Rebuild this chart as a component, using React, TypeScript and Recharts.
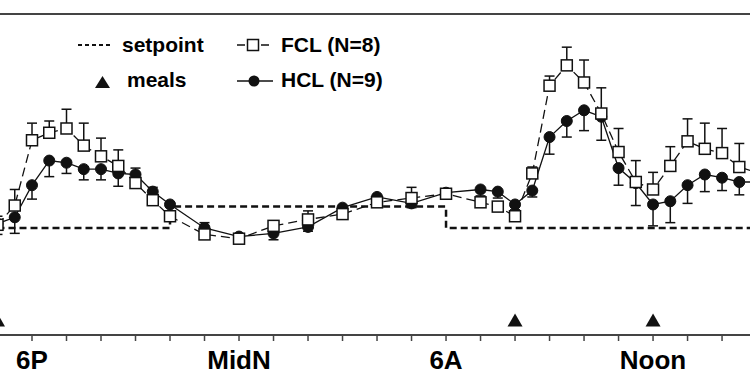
import React from "react";
import {
  ComposedChart,
  Line,
  Scatter,
  XAxis,
  YAxis,
  ErrorBar,
  ReferenceLine,
} from "recharts";

// clock hours: 18 = 6P, 24 = midnight, 30 = 6A, 36 = noon
const hours = [
  17, 17.5, 18, 18.5, 19, 19.5, 20, 20.5, 21, 21.5, 22, 23, 24, 25, 26, 27, 28, 29,
  30, 31, 31.5, 32, 32.5, 33, 33.5, 34, 34.5, 35, 35.5, 36, 36.5, 37, 37.5, 38, 38.5, 39,
];

const fclMean = [
  103, 121, 182, 189, 193, 177, 167, 158, 142, 126, 111, 94, 90, 102, 108, 113, 124, 128,
  132, 124, 120, 111, 151, 233, 252, 236, 207, 171, 143, 136, 158, 181, 174, 170, 157, 152,
];
const fclSem = [
  8, 15, 16, 11, 18, 21, 17, 15, 14, 12, 4, 11, 3, 3, 8, 3, 5, 10,
  3, 3, 2, 3, 6, 9, 17, 21, 24, 22, 20, 16, 18, 21, 24, 23, 22, 20,
];

const hclMean = [
  104, 110, 140, 163, 161, 155, 155, 151, 150, 134, 122, 100, 92, 95, 101, 119, 129, 123,
  133, 136, 134, 122, 135, 185, 200, 210, 204, 156, 142, 122, 125, 140, 150, 147, 143, 143,
];
const hclSem = [
  10, 15, 13, 15, 10, 10, 10, 12, 7, 7, 6, 5, 3, 6, 4, 3, 3, 4,
  3, 6, 6, 5, 6, 16, 15, 19, 22, 16, 21, 20, 20, 17, 16, 12, 12, 12,
];

const setpointHours = [17, 22, 30, 39];
const setpointValues = [100, 120, 100, 100];

const mealHours = [17, 32, 36];
const mealLevel = 14;

const tickHours = [18, 19, 20, 21, 22, 23, 24, 25, 26, 27, 28, 29, 30, 31, 32, 33, 34, 35, 36, 37, 38];
const majorTicks = [18, 24, 30, 36];
const majorLabels = ["6P", "MidN", "6A", "Noon"];

const legendLabels = ["setpoint", "meals", "FCL (N=8)", "HCL (N=9)"];

const rows = hours.map((h, i) => ({
  h,
  fcl: fclMean[i],
  fclErr: [0, fclSem[i]],
  hcl: hclMean[i],
  hclErr: [hclSem[i], 0],
}));
const setpoint = setpointHours.map((h, i) => ({ h, sp: setpointValues[i] }));
const meals = mealHours.map((h) => ({ h, v: mealLevel }));

const INK = "#111";
const FONT = "'Liberation Sans', Arial, sans-serif";

const HourTick = (props: any) => {
  const { x, y, payload } = props;
  const i = majorTicks.indexOf(payload.value);
  if (i < 0) return <g />;
  return (
    <text x={x} y={y} dy={26} textAnchor="middle" fontFamily={FONT} fontWeight="bold" fontSize={26} fill="#000">
      {majorLabels[i]}
    </text>
  );
};

const SquareDot = (props: any) => {
  const { cx, cy, index } = props;
  if (cx == null || cy == null) return <g key={`s-${index}`} />;
  return (
    <rect key={`s-${index}`} x={cx - 5.5} y={cy - 5.5} width={11} height={11} fill="#fff" stroke={INK} strokeWidth={1.5} />
  );
};

const Triangle = (props: any) => {
  const { cx, cy } = props;
  return <polygon points={`${cx - 7.5},${cy + 6.5} ${cx + 7.5},${cy + 6.5} ${cx},${cy - 6.5}`} fill={INK} />;
};

const Legend = () => (
  <svg width={750} height={375} style={{ position: "absolute", left: 0, top: 0, pointerEvents: "none" }}>
    <g fontFamily={FONT} fontWeight="bold" fontSize={21} fill="#000">
      <line x1={78} x2={113} y1={45} y2={45} stroke={INK} strokeWidth={2} strokeDasharray="4 3" />
      <text x={122} y={52}>{legendLabels[0]}</text>
      <polygon points="95,88 110,88 102.5,76" fill={INK} />
      <text x={127} y={87}>{legendLabels[1]}</text>
      <line x1={237} x2={271} y1={45} y2={45} stroke={INK} strokeWidth={1.3} strokeDasharray="8 4" />
      <rect x={247.5} y={39.5} width={11} height={11} fill="#fff" stroke={INK} strokeWidth={1.5} />
      <text x={281} y={52}>{legendLabels[2]}</text>
      <line x1={237} x2={273} y1={81} y2={81} stroke={INK} strokeWidth={1.3} />
      <circle cx={254} cy={81} r={5.5} fill={INK} />
      <text x={281} y={87}>{legendLabels[3]}</text>
    </g>
  </svg>
);

export default function App() {
  return (
    <div style={{ position: "absolute", left: 0, top: 0, width: 750, height: 375, background: "#fff" }}>
      <ComposedChart width={750} height={375} data={rows} margin={{ top: 14, right: 0, bottom: 10, left: 0 }}>
        <XAxis
          dataKey="h"
          type="number"
          domain={[17.0725, 38.81]}
          allowDataOverflow
          ticks={tickHours}
          interval={0}
          tick={HourTick}
          tickSize={6}
          height={30}
          axisLine={{ stroke: "#444", strokeWidth: 2 }}
          tickLine={{ stroke: "#444", strokeWidth: 1.5 }}
        />
        <YAxis type="number" domain={[0, 300]} allowDataOverflow hide />
        <ReferenceLine y={300} stroke="#444" strokeWidth={2} />
        <Line
          data={setpoint}
          dataKey="sp"
          type="stepAfter"
          stroke={INK}
          strokeWidth={2.5}
          strokeDasharray="7 4"
          dot={false}
          isAnimationActive={false}
        />
        <Line
          dataKey="hcl"
          type="linear"
          stroke={INK}
          strokeWidth={1.3}
          dot={{ r: 5.5, fill: INK, stroke: INK, strokeWidth: 1 }}
          isAnimationActive={false}
        >
          <ErrorBar dataKey="hclErr" width={5} stroke={INK} strokeWidth={1.5} direction="y" />
        </Line>
        <Line
          dataKey="fcl"
          type="linear"
          stroke={INK}
          strokeWidth={1.3}
          strokeDasharray="9 5"
          dot={SquareDot}
          isAnimationActive={false}
        >
          <ErrorBar dataKey="fclErr" width={5} stroke={INK} strokeWidth={1.5} direction="y" />
        </Line>
        <Scatter data={meals} dataKey="v" shape={Triangle} isAnimationActive={false} />
      </ComposedChart>
      <Legend />
    </div>
  );
}
